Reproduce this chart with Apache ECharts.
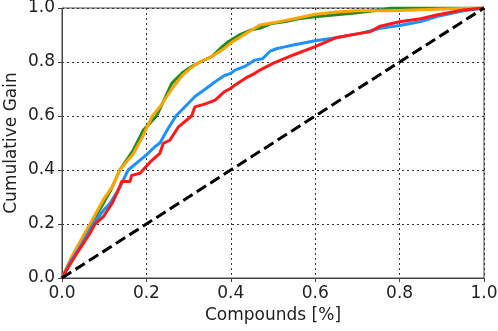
<!DOCTYPE html>
<html>
<head>
<meta charset="utf-8">
<script src="https://cdn.jsdelivr.net/npm/echarts@6/dist/echarts.min.js"></script>
<style>
    html, body { margin: 0; padding: 0; background: #fff; }
    #chart { width: 498px; height: 331px; }
</style>
</head>
<body>
<div id="chart"></div>
<script>
// cumulative gain curves, [fraction of compounds, gain]
const greenCurve = [
    [0, 0], [0.02, 0.06], [0.043, 0.128], [0.07, 0.2], [0.098, 0.277], [0.114, 0.32],
    [0.137, 0.4], [0.169, 0.474], [0.193, 0.548], [0.224, 0.6], [0.245, 0.67], [0.26, 0.721],
    [0.285, 0.76], [0.307, 0.783], [0.327, 0.8], [0.355, 0.82], [0.375, 0.85], [0.394, 0.875],
    [0.42, 0.9], [0.449, 0.919], [0.469, 0.925], [0.497, 0.943], [0.53, 0.95], [0.56, 0.96],
    [0.6, 0.968], [0.65, 0.975], [0.7, 0.982], [0.754, 0.993], [0.78, 1.0], [1, 1]
]
const orangeCurve = [
    [0, 0], [0.02, 0.07], [0.043, 0.135], [0.07, 0.21], [0.098, 0.29], [0.12, 0.34],
    [0.137, 0.4], [0.169, 0.46], [0.19, 0.52], [0.213, 0.597], [0.235, 0.64], [0.26, 0.7],
    [0.285, 0.75], [0.307, 0.78], [0.327, 0.8], [0.355, 0.82], [0.38, 0.845], [0.4, 0.87],
    [0.43, 0.9], [0.469, 0.937], [0.5, 0.945], [0.55, 0.96], [0.6, 0.977], [0.65, 0.985],
    [0.7, 0.99], [0.78, 0.99], [0.9, 0.996], [1, 1]
]
const blueCurve = [
    [0, 0], [0.02, 0.06], [0.043, 0.116], [0.074, 0.2], [0.098, 0.25], [0.114, 0.277],
    [0.135, 0.33], [0.153, 0.388], [0.157, 0.4], [0.18, 0.43], [0.2, 0.456], [0.22, 0.486],
    [0.232, 0.5], [0.25, 0.55], [0.27, 0.6], [0.303, 0.653], [0.315, 0.672], [0.34, 0.7],
    [0.363, 0.727], [0.385, 0.75], [0.4, 0.758], [0.41, 0.77], [0.435, 0.785], [0.457, 0.807],
    [0.475, 0.812], [0.493, 0.84], [0.51, 0.85], [0.525, 0.855], [0.548, 0.863], [0.6, 0.879],
    [0.65, 0.89], [0.706, 0.906], [0.73, 0.915], [0.754, 0.925], [0.8, 0.935], [0.85, 0.95],
    [0.888, 0.968], [0.951, 0.99], [1, 1]
]
const redCurve = [
    [0, 0], [0.015, 0.04], [0.035, 0.091], [0.066, 0.165], [0.078, 0.2], [0.098, 0.227],
    [0.12, 0.28], [0.137, 0.338], [0.141, 0.357], [0.161, 0.357], [0.165, 0.38], [0.185, 0.388],
    [0.209, 0.43], [0.232, 0.462], [0.24, 0.499], [0.256, 0.511], [0.276, 0.56], [0.307, 0.6],
    [0.315, 0.634], [0.34, 0.645], [0.363, 0.659], [0.385, 0.69], [0.4, 0.703], [0.41, 0.715],
    [0.435, 0.74], [0.457, 0.758], [0.469, 0.77], [0.5, 0.795], [0.548, 0.826], [0.6, 0.857],
    [0.651, 0.891], [0.706, 0.906], [0.73, 0.912], [0.754, 0.933], [0.8, 0.949], [0.85, 0.96],
    [0.888, 0.974], [0.951, 0.993], [1, 1]
]
const randomLine = [[0, 0], [1, 1]]

const font = 'DejaVu Sans'

const axisBase = {
    type: 'value',
    min: 0,
    max: 1,
    interval: 0.2,
    nameLocation: 'middle',
    nameMoveOverlap: false,
    nameTextStyle: { fontFamily: font, fontSize: 17, color: '#222' },
    axisLine: { show: true, lineStyle: { color: '#444', width: 1 } },
    axisTick: { show: true, inside: false, length: 4, lineStyle: { color: '#444' } },
    axisLabel: {
        fontFamily: font, fontSize: 17, color: '#222', margin: 7,
        formatter: (v) => v.toFixed(1)
    },
    splitLine: { show: true, lineStyle: { color: '#333', type: [2, 3], width: 1 } }
}

const lineSeries = (data, color) => ({
    type: 'line',
    data: data,
    showSymbol: false,
    smooth: false,
    lineStyle: { color: color, width: 3 },
    animation: false
})

const option = {
    animation: false,
    grid: {
        left: 62, right: 14, top: 8, bottom: 53,
        containLabel: false, outerBoundsMode: 'none',
        show: true, borderColor: '#444', borderWidth: 1
    },
    xAxis: { ...axisBase, name: 'Compounds [%]', nameGap: 29 },
    yAxis: { ...axisBase, name: 'Cumulative Gain', nameGap: 42 },
    series: [
        lineSeries(greenCurve, '#228b22'),
        lineSeries(orangeCurve, '#ffa500'),
        lineSeries(blueCurve, '#1e90ff'),
        lineSeries(redCurve, '#ff1a1a'),
        {
            type: 'line',
            data: randomLine,
            showSymbol: false,
            lineStyle: { color: '#000', width: 3, type: [11, 5] },
            animation: false
        }
    ]
}

const myChart = echarts.init(document.getElementById('chart'))
myChart.setOption(option)
</script>
</body>
</html>
